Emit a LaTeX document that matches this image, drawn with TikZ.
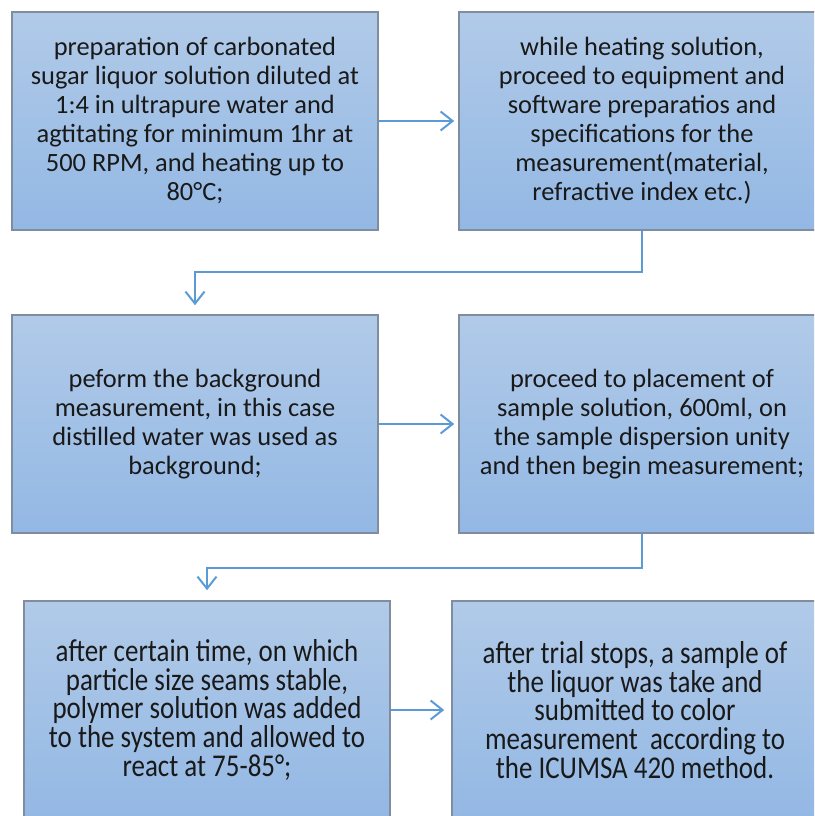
\documentclass[tikz,border=0pt]{standalone}
\usepackage{fontspec}
\setmainfont{Carlito}
\newfontfamily\narrowfont[FakeStretch=0.85]{Carlito}
\usetikzlibrary{arrows.meta}
\definecolor{boxtop}{RGB}{177,202,232}
\definecolor{boxbot}{RGB}{147,184,228}
\definecolor{boxline}{RGB}{128,140,160}
\definecolor{arrowblue}{RGB}{91,155,213}
\begin{document}
\begin{tikzpicture}[x=1pt,y=-1pt,
  stepbox/.style={draw=boxline, line width=1.6pt, top color=boxtop, bottom color=boxbot,
    minimum width=366pt, minimum height=218pt, inner sep=0pt, align=center,
    font=\fontsize{26.4}{29}\selectfont, text=black!90},
  lowbox/.style={stepbox, font=\narrowfont\fontsize{31.7}{28.6}\selectfont},
  arr/.style={draw=arrowblue, line width=2pt, -{Straight Barb[length=12pt,width=19pt,line width=2pt]}}]
\useasboundingbox (0,0) rectangle (814,816);
\clip (0,0) rectangle (814,816);
\node[stepbox] (b1) at (195,121) {preparation of carbonated\\sugar liquor solution diluted at\\1:4 in ultrapure water and\\agtitating for minimum 1hr at\\500 RPM, and heating up to\\80°C;};
\node[stepbox] (b2) at (642,121) {while heating solution,\\proceed to equipment and\\software preparatios and\\specifications for the\\measurement(material,\\refractive index etc.)};
\node[stepbox] (b3) at (195,424) {peform the background\\measurement, in this case\\distilled water was used as\\background;};
\node[stepbox] (b4) at (642,424) {proceed to placement of\\sample solution, 600ml, on\\the sample dispersion unity\\and then begin measurement;};
\node[lowbox] (b5) at (207,710) {after certain time, on which\\particle size seams stable,\\polymer solution was added\\to the system and allowed to\\react at 75-85°;};
\node[lowbox] (b6) at (635,710) {after trial stops, a sample of\\the liquor was take and\\submitted to color\\measurement\ \ according to\\the ICUMSA 420 method.};
\coordinate (t12) at ([xshift=-4pt]b2.west);
\coordinate (t23) at ([yshift=9pt]b3.north);
\coordinate (t34) at ([xshift=-4pt]b4.west);
\coordinate (t45) at ([yshift=10pt]b5.north);
\coordinate (t56) at ([xshift=-7pt]b6.west);
\draw[arr] (b1.east) -- (t12);
\draw[arr] (b2.south) -- ++(0,41) -| (t23);
\draw[arr] (b3.east) -- (t34);
\draw[arr] (b4.south) -- ++(0,34) -| (t45);
\draw[arr] (b5.east) -- (t56);
\end{tikzpicture}
\end{document}
